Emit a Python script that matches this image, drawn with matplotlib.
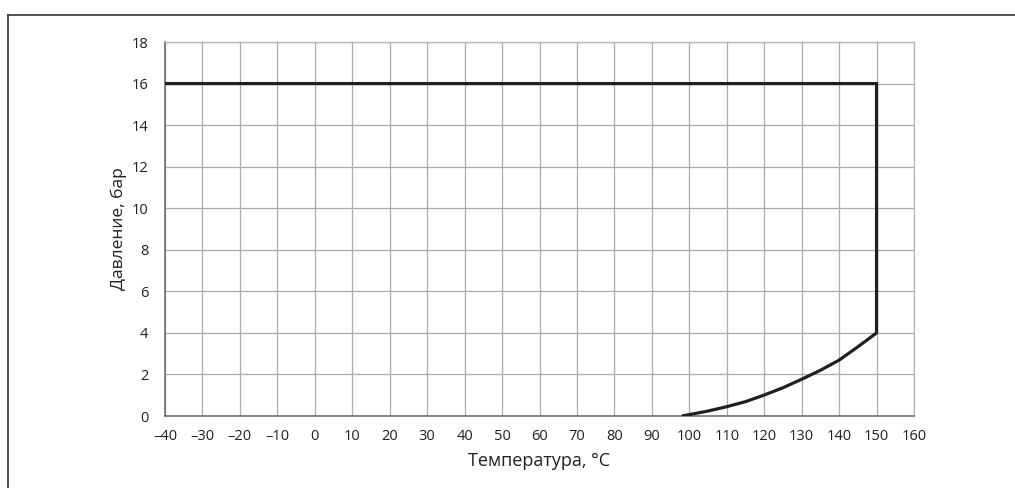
import matplotlib
matplotlib.use("Agg")
import matplotlib.pyplot as plt
from matplotlib.lines import Line2D

plt.rcParams['font.family'] = ['Open Sans', 'DejaVu Sans']

# Data
temp_upper = [-40, 150, 150]
pres_upper = [16, 16, 4]
temp_curve = [150, 145, 140, 135, 130, 125, 120, 115, 110, 105, 98]
pres_curve = [4.0, 3.33, 2.69, 2.2, 1.77, 1.36, 1.01, 0.69, 0.45, 0.24, 0.0]

x_ticks = list(range(-40, 161, 10))
x_labels = [("\u2013" + str(-v)) if v < 0 else str(v) for v in x_ticks]
y_ticks = list(range(0, 19, 2))
y_labels = [str(v) for v in y_ticks]

fig = plt.figure(figsize=(10.15, 4.88), dpi=100)
ax = fig.add_axes([0.1626, 0.1475, 0.7379, 0.7664])

line_color = '#231f20'
ax.plot(temp_upper + temp_curve[1:], pres_upper + pres_curve[1:],
        color=line_color, lw=2.3, solid_joinstyle='miter', solid_capstyle='butt', zorder=5)

ax.set_xlim(-40, 160)
ax.set_ylim(0, 18)
ax.set_xticks(x_ticks)
ax.set_xticklabels(x_labels)
ax.set_yticks(y_ticks)
ax.set_yticklabels(y_labels)
ax.tick_params(axis='both', length=0, labelsize=10.5, colors='#231f20')
ax.tick_params(axis='x', pad=9)
ax.tick_params(axis='y', pad=12)
ax.grid(True, color='#ababab', lw=0.9)
ax.set_axisbelow(True)

for s in ['top', 'right']:
    ax.spines[s].set_color('#b5b5b5')
    ax.spines[s].set_linewidth(0.9)
for s in ['left', 'bottom']:
    ax.spines[s].set_color('#666666')
    ax.spines[s].set_linewidth(1.1)

ax.set_xlabel('Температура, °C', fontsize=13, color='#231f20', labelpad=6)
ax.set_ylabel('Давление, бар', fontsize=12.5, color='#231f20', labelpad=3)

# figure frame (top and left edges visible)
fig.add_artist(Line2D([8/1015, 1.0], [1 - 15/488, 1 - 15/488],
                      transform=fig.transFigure, color='#333333', lw=1.2))
fig.add_artist(Line2D([8/1015, 8/1015], [0.0, 1 - 15/488],
                      transform=fig.transFigure, color='#333333', lw=1.2))

fig.savefig('out.png', dpi=100)
